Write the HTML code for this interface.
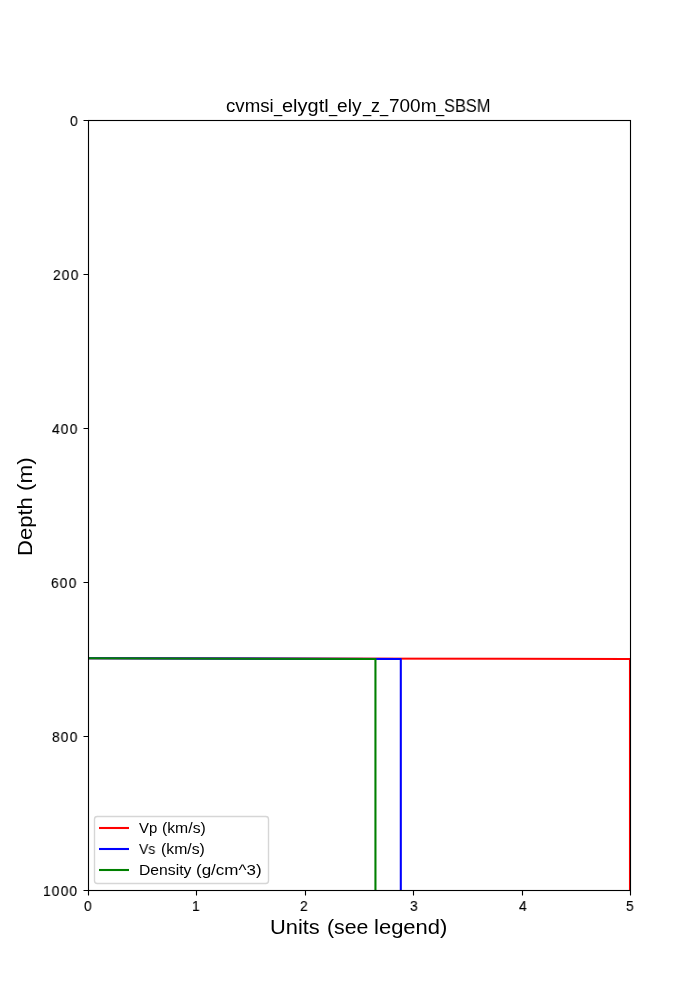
<!DOCTYPE html>
<html lang="en">
<head>
<meta charset="utf-8">
<title>cvmsi_elygtl_ely_z_700m_SBSM</title>
<style>
html,body{margin:0;padding:0;background:#fff}
body{position:relative;width:700px;height:1000px;overflow:hidden;font-family:"Liberation Sans",sans-serif;color:#000}
svg{position:absolute;left:0;top:0;display:block}
.g{margin:0;padding:0;font-family:"Liberation Sans",sans-serif;color:#000}
.f17_5{font-size:17.5px;line-height:17.5px}
.f20_4{font-size:20.4px;line-height:20.4px}
.f14_6{font-size:14.6px;line-height:14.6px}
.t{position:absolute;display:block;white-space:pre;will-change:transform;transform-origin:0 0}
#yticks .t,#xticks .t{-webkit-text-stroke:0.15px #000}
#title0{left:226.05px;top:98.19px;transform:scaleX(1.0663)}
#title1{left:273.83px;top:98.19px;transform:scaleX(0.8398)}
#title2{left:282.16px;top:98.19px;transform:scaleX(1.1410)}
#title3{left:329.00px;top:98.19px;transform:scaleX(0.8403)}
#title4{left:337.46px;top:98.19px;transform:scaleX(1.0930)}
#title5{left:362.71px;top:98.19px;transform:scaleX(0.8398)}
#title6{left:370.94px;top:98.19px;transform:scaleX(1.0215)}
#title7{left:379.82px;top:98.19px;transform:scaleX(0.8398)}
#title8{left:388.54px;top:98.19px;transform:scaleX(1.0833)}
#title9{left:436.20px;top:98.19px;transform:scaleX(0.8398)}
#title10{left:444.40px;top:98.19px;transform:scaleX(0.9358)}
#xlab0{left:270.19px;top:916.73px;transform:scaleX(1.0712)}
#xlab1{left:326.53px;top:916.73px;transform:scaleX(1.0449)}
#xlab2{left:374.47px;top:916.73px;transform:scaleX(1.0791)}
#ylab0{left:14.73px;top:555.60px;transform:rotate(-90deg) scaleX(1.0815)}
#ylab1{left:14.73px;top:490.59px;transform:rotate(-90deg) scaleX(1.0992)}
#leg_t10{left:139.33px;top:820.64px;transform:scaleX(1.0210)}
#leg_t11{left:162.49px;top:820.64px;transform:scaleX(1.0796)}
#leg_t20{left:139.34px;top:841.64px;transform:scaleX(0.9554)}
#leg_t21{left:160.60px;top:841.64px;transform:scaleX(1.0823)}
#leg_t30{left:139.41px;top:862.64px;transform:scaleX(1.0758)}
#leg_t31{left:196.29px;top:862.64px;transform:scaleX(1.1652)}
#yt0{left:70.12px;top:113.64px;transform:scaleX(0.9463)}
#yt200{left:52.59px;top:267.64px;transform:scaleX(0.9430);letter-spacing:1.25px}
#yt400{left:52.10px;top:421.64px;transform:scaleX(0.9430);letter-spacing:1.25px}
#yt600{left:51.26px;top:575.64px;transform:scaleX(0.9430);letter-spacing:1.25px}
#yt800{left:51.52px;top:729.64px;transform:scaleX(0.9430);letter-spacing:1.25px}
#yt1000{left:42.99px;top:883.64px;transform:scaleX(0.9430);letter-spacing:1.25px}
#xt0{left:84.19px;top:898.64px;transform:scaleX(0.9430)}
#xt1{left:192.27px;top:898.64px;transform:scaleX(0.9393)}
#xt2{left:300.03px;top:898.64px;transform:scaleX(0.9415)}
#xt3{left:409.69px;top:898.64px;transform:scaleX(0.9435)}
#xt4{left:518.75px;top:898.64px;transform:scaleX(0.9436)}
#xt5{left:626.48px;top:898.64px;transform:scaleX(0.9432)}
</style>
</head>
<body>
<svg width="700" height="1000" viewBox="0 0 700 1000">
<rect x="0" y="0" width="700" height="1000" fill="#ffffff"/>
<!-- data lines, clipped to the axes area -->
<clipPath id="axclip"><rect x="88" y="120" width="542" height="770"/></clipPath>
<g clip-path="url(#axclip)" fill="none" stroke-width="2.083" stroke-linejoin="round" stroke-linecap="square">
<polyline points="87.5,658.23 630,659 630,890" stroke="#ff0000"/>
<polyline points="87.5,658.23 400.8,659 400.8,890" stroke="#0000ff"/>
<polyline points="87.5,658.23 375.45,659 375.45,890" stroke="#008000"/>
</g>
<!-- tick marks -->
<g stroke="#000000" stroke-width="1.111" fill="none">
<path d="M88.5 890.5v5M196.5 890.5v5M305.5 890.5v5M413.5 890.5v5M522.5 890.5v5M630.5 890.5v5"/>
<path d="M88.5 120.5h-5M88.5 274.5h-5M88.5 428.5h-5M88.5 582.5h-5M88.5 736.5h-5M88.5 890.5h-5"/>
</g>
<!-- axes frame (spines) -->
<rect x="88.5" y="120.5" width="542" height="770" fill="none" stroke="#000000" stroke-width="1.111" stroke-linejoin="miter"/>
<!-- legend -->
<rect x="94.5" y="816.5" width="174" height="67" rx="2.78" ry="2.78" fill="#ffffff" fill-opacity="0.8" stroke="#cccccc" stroke-opacity="0.8" stroke-width="1.389"/>
<g stroke-width="2.083" fill="none">
<path d="M99 828h30" stroke="#ff0000"/>
<path d="M99 849h30" stroke="#0000ff"/>
<path d="M99 870h30" stroke="#008000"/>
</g>
</svg>

<div class="g f17_5" id="title"><span class="t" id="title0">cvmsi</span><span class="t" id="title1">_</span><span class="t" id="title2">elygtl</span><span class="t" id="title3">_</span><span class="t" id="title4">ely</span><span class="t" id="title5">_</span><span class="t" id="title6">z</span><span class="t" id="title7">_</span><span class="t" id="title8">700m</span><span class="t" id="title9">_</span><span class="t" id="title10">SBSM</span></div>
<div class="g f20_4" id="xlab"><span class="t" id="xlab0">Units </span><span class="t" id="xlab1">(see </span><span class="t" id="xlab2">legend)</span></div>
<div class="g f20_4" id="ylab"><span class="t" id="ylab0">Depth </span><span class="t" id="ylab1">(m)</span></div>
<div class="g f14_6" id="leg_t1"><span class="t" id="leg_t10">Vp </span><span class="t" id="leg_t11">(km/s)</span></div>
<div class="g f14_6" id="leg_t2"><span class="t" id="leg_t20">Vs </span><span class="t" id="leg_t21">(km/s)</span></div>
<div class="g f14_6" id="leg_t3"><span class="t" id="leg_t30">Density </span><span class="t" id="leg_t31">(g/cm^3)</span></div>
<div class="g f14_6" id="yticks"><span class="t" id="yt0">0</span> <span class="t" id="yt200">200</span> <span class="t" id="yt400">400</span> <span class="t" id="yt600">600</span> <span class="t" id="yt800">800</span> <span class="t" id="yt1000">1000</span></div>
<div class="g f14_6" id="xticks"><span class="t" id="xt0">0</span> <span class="t" id="xt1">1</span> <span class="t" id="xt2">2</span> <span class="t" id="xt3">3</span> <span class="t" id="xt4">4</span> <span class="t" id="xt5">5</span></div>
</body>
</html>
